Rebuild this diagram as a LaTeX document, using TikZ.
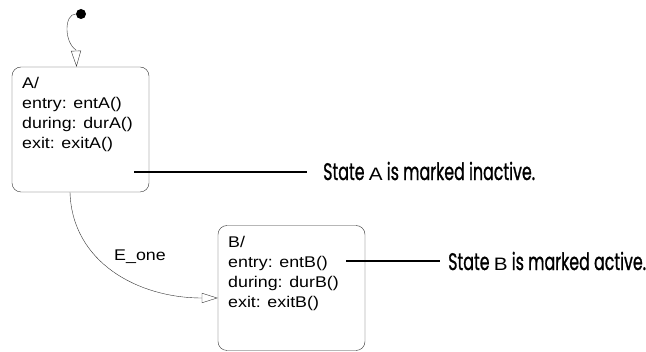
\documentclass[tikz,border=0pt]{standalone}
\usepackage{fontspec}
\setmainfont{Liberation Sans}
\newfontfamily\statefont[FakeStretch=1.15]{Liberation Sans}
\newfontfamily\notefont[FakeStretch=0.66, FakeBold=0.9]{Poppins}
\usetikzlibrary{arrows.meta}

\begin{document}
\begin{tikzpicture}[x = 1pt, y = -1pt,
		state/.style = {draw = black!80, rounded corners = 9pt, minimum width = 137pt, minimum height = 125pt, inner sep = 0pt},
		body/.style = {anchor = north west, align = left, inner sep = 0pt, font = \statefont\fontsize{15.5}{20}\selectfont},
		note/.style = {anchor = west, inner sep = 0pt, font = \notefont\fontsize{24}{26}\selectfont},
		leader/.style = {line width = 1.3pt},
		open tip/.style = {draw = black!80, -{Triangle[open, length = 16pt, width = 10pt]}}]
		\useasboundingbox (0, 0) rectangle (646, 352);
		% the two states
		\node[state] (stA) at (80.5, 129.5) {};
		\node[state, minimum width = 147pt] (stB) at (291.5, 288) {};
		\node[body] (txtA) at (22, 77.5) {A/\\entry: entA()\\during: durA()\\exit: exitA()};
		\node[body] (txtB) at (228, 236) {B/\\entry: entB()\\during: durB()\\exit: exitB()};
		% default transition
		\node[circle, fill, inner sep = 0pt, minimum size = 10pt] (init) at (81, 14) {};
		\draw[open tip] (init) .. controls (64, 14) and (64, 42) .. (76, 50) -- ([xshift = -4pt]stA.north);
		% transition on E_one
		\draw[open tip] ([xshift = -10.5pt]stA.south) .. controls +(2, 70) and +(-80, 0) .. ([yshift = -10pt]stB.west);
		\node[font = \statefont\fontsize{15.5}{20}\selectfont] (evt) at (140, 257) {E\_one};
		% notes
		\node[note] (noteA) at (323, 171) {State {\statefont\fontsize{18}{20}\selectfont A} is marked inactive.};
		\node[note] (noteB) at (448, 261) {State {\statefont\fontsize{18}{20}\selectfont B} is marked active.};
		\coordinate (tipA) at (134, 172);
		\coordinate (tipB) at (346, 261);
		\draw[leader] (tipA) -- ([xshift = -16pt]noteA.west |- tipA);
		\draw[leader] (tipB) -- ([xshift = -8pt]noteB.west |- tipB);
	\end{tikzpicture}
\end{document}
